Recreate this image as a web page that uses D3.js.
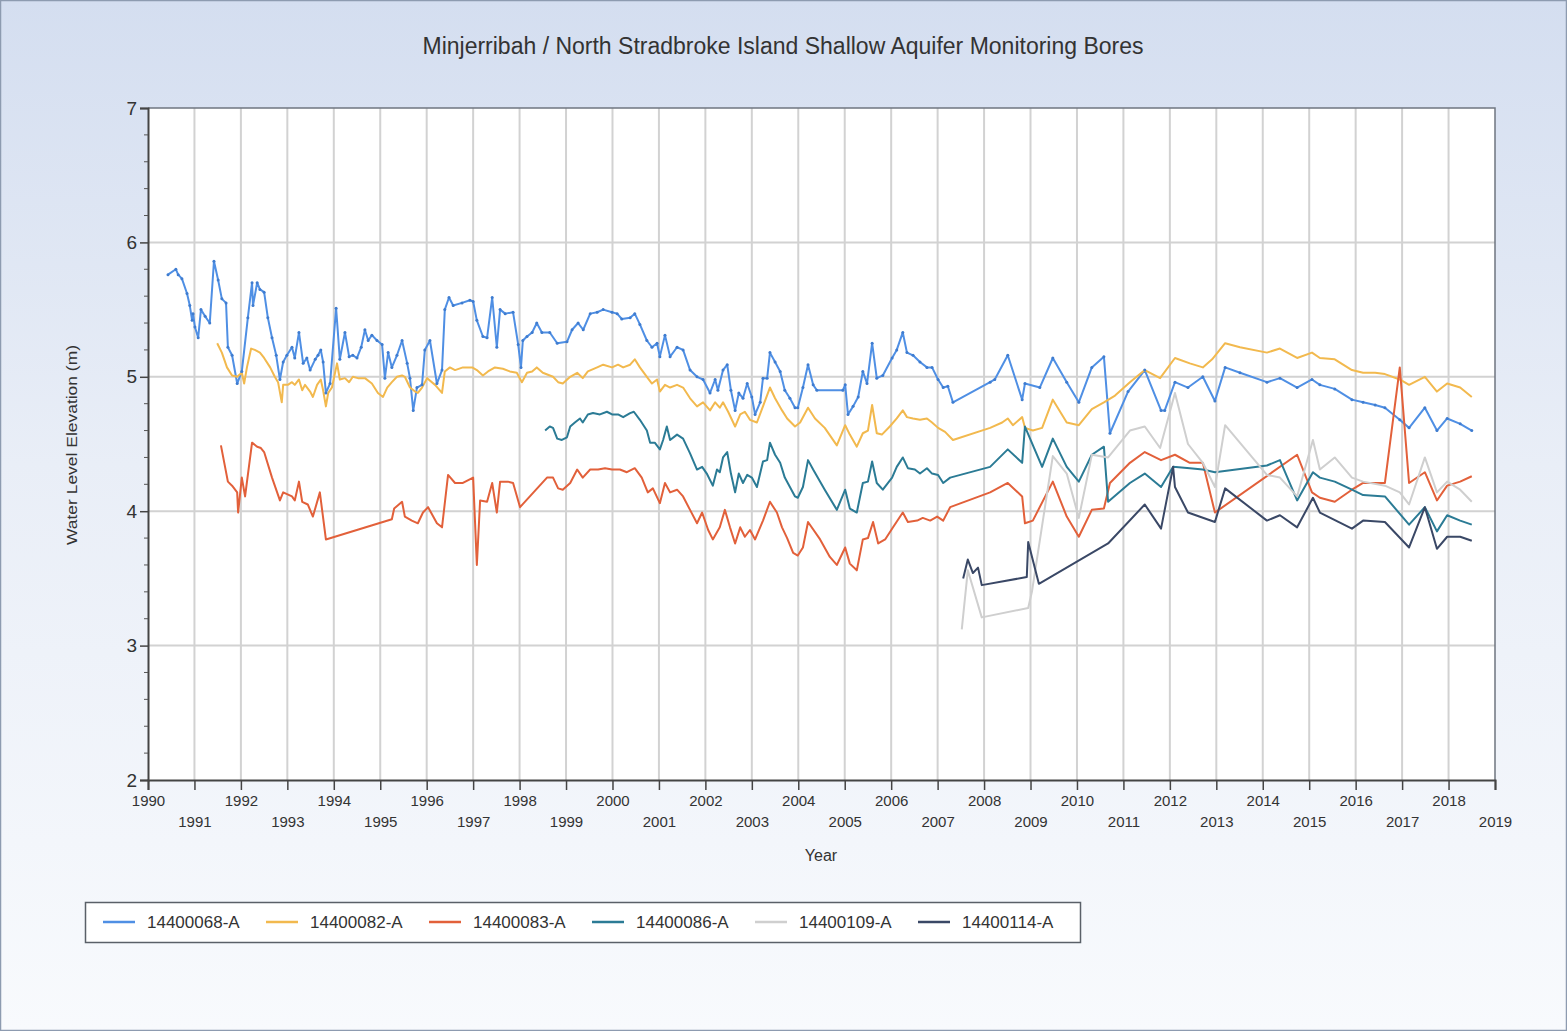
<!DOCTYPE html>
<html><head><meta charset="utf-8">
<script src="https://cdn.jsdelivr.net/npm/d3@7"></script>
<style>
html,body{margin:0;padding:0;background:#fff;}
svg{display:block;font-family:"Liberation Sans",Arial,sans-serif;}
</style></head>
<body><svg id="c" width="1567" height="1031"></svg>
<script>
const chartTitle = "Minjerribah / North Stradbroke Island Shallow Aquifer Monitoring Bores";
const xTitle = "Year";
const yTitle = "Water Level Elevation (m)";
const yearTicks = d3.range(1990, 2020);
const yTicks = [2, 3, 4, 5, 6, 7];
const seriesNames = ["14400068-A", "14400082-A", "14400083-A", "14400086-A", "14400109-A", "14400114-A"];

const s068 = [[1990.43,5.76],[1990.60,5.80],[1990.65,5.76],[1990.73,5.73],[1990.84,5.62],[1990.90,5.53],[1990.95,5.42],[1990.97,5.47],[1991.01,5.37],[1991.08,5.29],[1991.14,5.50],[1991.23,5.45],[1991.33,5.40],[1991.42,5.86],[1991.51,5.72],[1991.59,5.58],[1991.68,5.55],[1991.72,5.22],[1991.81,5.16],[1991.92,4.95],[1992.02,5.04],[1992.15,5.44],[1992.24,5.70],[1992.26,5.53],[1992.35,5.70],[1992.41,5.65],[1992.50,5.63],[1992.58,5.44],[1992.67,5.29],[1992.76,5.16],[1992.84,4.98],[1992.91,5.11],[1992.99,5.16],[1993.10,5.22],[1993.16,5.14],[1993.25,5.33],[1993.34,5.10],[1993.42,5.14],[1993.49,5.05],[1993.60,5.13],[1993.66,5.16],[1993.72,5.20],[1993.77,5.11],[1993.83,4.88],[1993.92,4.95],[1994.05,5.51],[1994.13,5.13],[1994.24,5.33],[1994.33,5.15],[1994.41,5.16],[1994.50,5.14],[1994.59,5.22],[1994.67,5.35],[1994.74,5.27],[1994.82,5.31],[1994.93,5.27],[1995.04,5.24],[1995.10,4.99],[1995.17,5.18],[1995.25,5.07],[1995.36,5.16],[1995.47,5.27],[1995.58,5.10],[1995.64,4.99],[1995.71,4.75],[1995.79,4.92],[1995.90,4.94],[1995.96,5.20],[1996.07,5.27],[1996.22,4.95],[1996.33,5.05],[1996.39,5.50],[1996.48,5.59],[1996.57,5.53],[1996.76,5.55],[1996.93,5.57],[1997.00,5.56],[1997.08,5.42],[1997.21,5.30],[1997.30,5.29],[1997.41,5.59],[1997.51,5.22],[1997.58,5.50],[1997.69,5.47],[1997.86,5.48],[1997.97,5.24],[1998.03,5.07],[1998.07,5.27],[1998.16,5.30],[1998.27,5.33],[1998.37,5.40],[1998.48,5.33],[1998.65,5.33],[1998.81,5.25],[1999.02,5.26],[1999.13,5.35],[1999.26,5.40],[1999.37,5.35],[1999.52,5.47],[1999.67,5.48],[1999.80,5.50],[1999.99,5.48],[2000.10,5.47],[2000.20,5.43],[2000.38,5.44],[2000.48,5.47],[2000.59,5.39],[2000.74,5.27],[2000.85,5.22],[2000.96,5.25],[2001.02,5.15],[2001.13,5.31],[2001.24,5.15],[2001.39,5.22],[2001.52,5.20],[2001.67,5.05],[2001.82,5.00],[2001.95,4.98],[2002.10,4.88],[2002.21,4.98],[2002.27,4.90],[2002.38,5.05],[2002.47,5.09],[2002.55,4.90],[2002.64,4.75],[2002.72,4.88],[2002.81,4.84],[2002.90,4.95],[2003.00,4.85],[2003.07,4.72],[2003.18,4.81],[2003.24,4.99],[2003.33,4.99],[2003.39,5.18],[2003.50,5.11],[2003.61,5.04],[2003.71,4.90],[2003.82,4.84],[2003.93,4.77],[2003.99,4.77],[2004.10,4.92],[2004.21,5.09],[2004.32,4.94],[2004.40,4.90],[2004.96,4.90],[2005.01,4.94],[2005.07,4.72],[2005.18,4.78],[2005.29,4.85],[2005.39,5.04],[2005.48,4.95],[2005.59,5.25],[2005.69,4.99],[2005.82,5.01],[2006.02,5.14],[2006.12,5.20],[2006.25,5.33],[2006.34,5.18],[2006.47,5.16],[2006.62,5.11],[2006.77,5.07],[2006.88,5.07],[2007.01,4.98],[2007.12,4.92],[2007.22,4.93],[2007.33,4.81],[2008.13,4.96],[2008.23,4.98],[2008.51,5.16],[2008.82,4.83],[2008.88,4.95],[2009.20,4.92],[2009.48,5.14],[2009.78,4.96],[2010.04,4.81],[2010.32,5.07],[2010.58,5.15],[2010.71,4.58],[2011.10,4.89],[2011.46,5.05],[2011.81,4.75],[2011.89,4.75],[2012.11,4.96],[2012.39,4.92],[2012.71,5.00],[2012.97,4.82],[2013.19,5.07],[2013.51,5.03],[2014.09,4.96],[2014.37,4.99],[2014.74,4.92],[2015.06,4.98],[2015.23,4.94],[2015.55,4.91],[2015.92,4.83],[2016.16,4.81],[2016.42,4.79],[2016.63,4.77],[2016.95,4.68],[2017.15,4.62],[2017.49,4.77],[2017.75,4.60],[2017.97,4.69],[2018.25,4.65],[2018.50,4.60]];

const s082 = [[1991.49,5.25],[1991.59,5.18],[1991.70,5.07],[1991.81,5.01],[1991.92,5.00],[1992.02,5.03],[1992.07,4.95],[1992.13,5.07],[1992.22,5.21],[1992.30,5.20],[1992.41,5.18],[1992.50,5.14],[1992.63,5.07],[1992.73,5.00],[1992.80,4.96],[1992.88,4.81],[1992.91,4.94],[1993.01,4.94],[1993.10,4.96],[1993.16,4.94],[1993.25,4.98],[1993.32,4.90],[1993.38,4.94],[1993.49,4.89],[1993.55,4.85],[1993.64,4.94],[1993.72,4.98],[1993.77,4.90],[1993.83,4.78],[1993.88,4.88],[1993.96,4.92],[1994.07,5.10],[1994.13,4.98],[1994.24,4.99],[1994.33,4.96],[1994.41,5.00],[1994.52,4.99],[1994.67,4.99],[1994.82,4.95],[1994.95,4.88],[1995.06,4.85],[1995.15,4.92],[1995.25,4.96],[1995.36,5.00],[1995.47,5.01],[1995.53,5.00],[1995.64,4.92],[1995.75,4.89],[1995.81,4.88],[1995.90,4.92],[1996.01,4.99],[1996.18,4.94],[1996.33,4.88],[1996.39,5.04],[1996.50,5.07],[1996.61,5.05],[1996.78,5.07],[1996.98,5.07],[1997.08,5.05],[1997.21,5.01],[1997.32,5.04],[1997.47,5.07],[1997.64,5.06],[1997.79,5.04],[1997.94,5.03],[1998.05,4.96],[1998.16,5.03],[1998.27,5.04],[1998.37,5.07],[1998.50,5.03],[1998.72,5.00],[1998.83,4.96],[1998.93,4.95],[1999.09,5.00],[1999.24,5.03],[1999.36,4.99],[1999.47,5.04],[1999.67,5.07],[1999.80,5.09],[1999.99,5.07],[2000.12,5.09],[2000.23,5.07],[2000.38,5.09],[2000.48,5.13],[2000.59,5.07],[2000.74,5.00],[2000.85,4.95],[2000.96,4.98],[2001.02,4.89],[2001.13,4.94],[2001.24,4.92],[2001.39,4.94],[2001.52,4.92],[2001.67,4.84],[2001.82,4.78],[2001.95,4.81],[2002.10,4.75],[2002.21,4.81],[2002.31,4.77],[2002.38,4.81],[2002.49,4.74],[2002.64,4.63],[2002.75,4.72],[2002.85,4.74],[2002.96,4.68],[2003.11,4.66],[2003.24,4.78],[2003.39,4.92],[2003.50,4.84],[2003.65,4.75],[2003.76,4.69],[2003.93,4.63],[2004.04,4.66],[2004.21,4.77],[2004.36,4.69],[2004.57,4.62],[2004.83,4.49],[2005.01,4.64],[2005.11,4.57],[2005.26,4.48],[2005.39,4.58],[2005.50,4.60],[2005.59,4.79],[2005.69,4.58],[2005.80,4.57],[2005.97,4.63],[2006.12,4.69],[2006.25,4.75],[2006.34,4.70],[2006.47,4.69],[2006.62,4.68],[2006.77,4.69],[2006.88,4.66],[2007.01,4.62],[2007.16,4.59],[2007.33,4.53],[2008.13,4.62],[2008.39,4.66],[2008.51,4.69],[2008.62,4.64],[2008.82,4.70],[2008.88,4.62],[2009.05,4.60],[2009.25,4.62],[2009.48,4.83],[2009.78,4.66],[2010.04,4.64],[2010.32,4.76],[2010.58,4.81],[2010.82,4.86],[2011.14,4.96],[2011.46,5.05],[2011.79,4.99],[2012.11,5.14],[2012.43,5.10],[2012.71,5.07],[2012.91,5.13],[2013.19,5.25],[2013.51,5.22],[2014.09,5.18],[2014.37,5.21],[2014.74,5.14],[2015.06,5.18],[2015.23,5.14],[2015.55,5.13],[2015.92,5.05],[2016.16,5.03],[2016.42,5.03],[2016.63,5.02],[2016.95,4.98],[2017.15,4.94],[2017.49,5.00],[2017.75,4.89],[2017.97,4.95],[2018.25,4.92],[2018.50,4.85]];

const s083 = [[1991.57,4.49],[1991.72,4.22],[1991.81,4.19],[1991.92,4.14],[1991.94,3.99],[1992.02,4.25],[1992.09,4.11],[1992.24,4.51],[1992.35,4.48],[1992.43,4.47],[1992.50,4.44],[1992.67,4.25],[1992.84,4.08],[1992.91,4.14],[1993.10,4.11],[1993.16,4.08],[1993.25,4.22],[1993.32,4.07],[1993.44,4.05],[1993.55,3.96],[1993.70,4.14],[1993.83,3.79],[1995.25,3.94],[1995.30,4.02],[1995.47,4.07],[1995.53,3.96],[1995.68,3.93],[1995.81,3.91],[1995.92,3.99],[1996.03,4.03],[1996.22,3.91],[1996.33,3.88],[1996.46,4.27],[1996.61,4.21],[1996.78,4.21],[1997.00,4.25],[1997.08,3.60],[1997.15,4.08],[1997.30,4.07],[1997.41,4.21],[1997.51,3.99],[1997.58,4.22],[1997.75,4.22],[1997.86,4.21],[1998.01,4.03],[1998.59,4.25],[1998.72,4.25],[1998.83,4.17],[1998.93,4.16],[1999.09,4.21],[1999.24,4.31],[1999.36,4.25],[1999.52,4.31],[1999.69,4.31],[1999.84,4.32],[1999.99,4.31],[2000.16,4.31],[2000.31,4.29],[2000.48,4.32],[2000.63,4.25],[2000.76,4.14],[2000.87,4.17],[2001.02,4.06],[2001.13,4.21],[2001.24,4.14],[2001.39,4.16],[2001.52,4.11],[2001.67,4.01],[2001.82,3.91],[2001.93,3.99],[2002.06,3.86],[2002.16,3.79],[2002.31,3.88],[2002.42,4.01],[2002.53,3.88],[2002.64,3.76],[2002.75,3.88],[2002.85,3.81],[2002.96,3.86],[2003.07,3.79],[2003.24,3.93],[2003.39,4.07],[2003.54,3.99],[2003.65,3.88],[2003.76,3.80],[2003.89,3.69],[2003.99,3.67],[2004.10,3.73],[2004.21,3.92],[2004.47,3.79],[2004.68,3.66],[2004.83,3.60],[2005.01,3.73],[2005.11,3.61],[2005.26,3.56],[2005.39,3.79],[2005.50,3.80],[2005.61,3.92],[2005.72,3.76],[2005.87,3.79],[2006.04,3.88],[2006.25,3.99],[2006.36,3.92],[2006.56,3.93],[2006.68,3.95],[2006.84,3.93],[2006.99,3.96],[2007.12,3.93],[2007.27,4.03],[2008.13,4.14],[2008.51,4.21],[2008.82,4.11],[2008.88,3.91],[2009.05,3.93],[2009.48,4.22],[2009.78,3.96],[2010.04,3.81],[2010.32,4.01],[2010.58,4.02],[2010.71,4.21],[2011.14,4.36],[2011.46,4.44],[2011.81,4.38],[2012.11,4.42],[2012.43,4.36],[2012.71,4.36],[2012.97,3.99],[2014.74,4.42],[2015.06,4.14],[2015.23,4.10],[2015.55,4.07],[2015.92,4.16],[2016.16,4.21],[2016.63,4.21],[2016.95,5.07],[2017.15,4.21],[2017.49,4.29],[2017.75,4.08],[2017.97,4.19],[2018.25,4.22],[2018.50,4.26]];

const s086 = [[1998.55,4.60],[1998.65,4.63],[1998.72,4.62],[1998.81,4.54],[1998.91,4.53],[1999.02,4.55],[1999.09,4.63],[1999.19,4.66],[1999.30,4.69],[1999.36,4.66],[1999.47,4.72],[1999.58,4.73],[1999.73,4.72],[1999.88,4.74],[1999.99,4.72],[2000.12,4.72],[2000.23,4.70],[2000.38,4.73],[2000.46,4.74],[2000.59,4.68],[2000.74,4.60],[2000.81,4.51],[2000.91,4.51],[2001.02,4.46],[2001.09,4.53],[2001.17,4.63],[2001.24,4.53],[2001.39,4.57],[2001.52,4.54],[2001.67,4.43],[2001.82,4.31],[2001.93,4.33],[2002.03,4.28],[2002.16,4.19],[2002.25,4.31],[2002.31,4.29],[2002.38,4.40],[2002.47,4.44],[2002.55,4.28],[2002.64,4.14],[2002.72,4.28],[2002.81,4.21],[2002.90,4.27],[2003.00,4.25],[2003.11,4.18],[2003.24,4.37],[2003.33,4.38],[2003.39,4.51],[2003.50,4.42],[2003.61,4.36],[2003.71,4.25],[2003.82,4.18],[2003.93,4.11],[2003.99,4.10],[2004.10,4.18],[2004.21,4.38],[2004.32,4.31],[2004.57,4.16],[2004.83,4.01],[2005.01,4.16],[2005.11,4.02],[2005.26,3.99],[2005.39,4.21],[2005.50,4.22],[2005.59,4.37],[2005.69,4.21],[2005.82,4.16],[2006.02,4.25],[2006.12,4.33],[2006.25,4.40],[2006.36,4.32],[2006.51,4.31],[2006.62,4.28],[2006.77,4.32],[2006.88,4.28],[2007.01,4.27],[2007.12,4.21],[2007.27,4.25],[2008.13,4.33],[2008.51,4.46],[2008.82,4.36],[2008.88,4.63],[2009.25,4.33],[2009.48,4.54],[2009.78,4.33],[2010.04,4.22],[2010.32,4.42],[2010.58,4.48],[2010.67,4.07],[2011.14,4.21],[2011.46,4.28],[2011.81,4.18],[2012.07,4.33],[2012.43,4.32],[2012.71,4.31],[2012.97,4.29],[2014.09,4.34],[2014.37,4.38],[2014.74,4.08],[2015.08,4.29],[2015.23,4.25],[2015.55,4.22],[2015.92,4.16],[2016.16,4.12],[2016.63,4.11],[2017.15,3.90],[2017.49,4.03],[2017.75,3.85],[2017.97,3.97],[2018.25,3.93],[2018.50,3.90]];

const s109 = [[2007.52,3.12],[2007.65,3.56],[2007.95,3.21],[2008.95,3.28],[2009.03,3.40],[2009.48,4.41],[2009.78,4.28],[2010.04,3.95],[2010.22,4.25],[2010.32,4.42],[2010.67,4.40],[2011.14,4.60],[2011.46,4.63],[2011.79,4.47],[2012.11,4.88],[2012.39,4.50],[2012.71,4.36],[2012.97,4.18],[2013.19,4.64],[2014.09,4.27],[2014.37,4.25],[2014.74,4.11],[2015.08,4.53],[2015.23,4.31],[2015.55,4.40],[2015.92,4.25],[2016.16,4.22],[2016.63,4.19],[2016.95,4.14],[2017.15,4.05],[2017.49,4.40],[2017.75,4.14],[2017.97,4.22],[2018.25,4.16],[2018.50,4.07]];

const s114 = [[2007.55,3.50],[2007.65,3.64],[2007.76,3.54],[2007.87,3.58],[2007.95,3.45],[2008.92,3.51],[2008.95,3.77],[2009.18,3.46],[2010.67,3.76],[2011.46,4.05],[2011.81,3.87],[2012.07,4.33],[2012.11,4.18],[2012.39,3.99],[2012.97,3.92],[2013.19,4.17],[2014.09,3.93],[2014.37,3.97],[2014.74,3.88],[2015.08,4.10],[2015.23,3.99],[2015.92,3.87],[2016.16,3.93],[2016.63,3.92],[2017.15,3.73],[2017.49,4.03],[2017.75,3.72],[2017.97,3.81],[2018.25,3.81],[2018.50,3.78]];

const seriesData = [s068, s082, s083, s086, s109, s114];
const seriesColors = ["#4f8fe4", "#f2b94e", "#e2603a", "#2b7b95", "#cfcfcf", "#3a4866"];

const W = 1567, H = 1031;
const M = {left:148, right:1495, top:108, bottom:780};
const svg = d3.select("#c");

// background gradient
const defs = svg.append("defs");
const g = defs.append("linearGradient").attr("id","bg").attr("x1",0).attr("y1",0).attr("x2",0).attr("y2",1);
g.append("stop").attr("offset","0%").attr("stop-color","#d4def0");
g.append("stop").attr("offset","45%").attr("stop-color","#e9eef7");
g.append("stop").attr("offset","100%").attr("stop-color","#f8fafd");
svg.append("rect").attr("x",0.5).attr("y",0.5).attr("width",W-1).attr("height",H-1)
  .attr("fill","url(#bg)").attr("stroke","#8d9bb0").attr("stroke-width",1.5);

const x = d3.scaleLinear().domain([1990, 2019]).range([M.left, M.right]);
const y = d3.scaleLinear().domain([2, 7]).range([M.bottom, M.top]);

// plot area
svg.append("rect").attr("x",M.left).attr("y",M.top).attr("width",M.right-M.left).attr("height",M.bottom-M.top)
  .attr("fill","#ffffff");

// gridlines
svg.append("g").selectAll("line").data(yearTicks.slice(1, -1)).join("line")
  .attr("x1",d=>x(d)).attr("x2",d=>x(d)).attr("y1",M.top).attr("y2",M.bottom)
  .attr("stroke","#d2d2d2").attr("stroke-width",2);
svg.append("g").selectAll("line").data(yTicks.slice(1, -1)).join("line")
  .attr("y1",d=>y(d)).attr("y2",d=>y(d)).attr("x1",M.left).attr("x2",M.right)
  .attr("stroke","#d2d2d2").attr("stroke-width",2);

// plot border (top/right)
svg.append("path").attr("d",`M${M.left},${M.top}H${M.right}V${M.bottom}`)
  .attr("fill","none").attr("stroke","#6f7680").attr("stroke-width",1.5);

// series lines
const line = d3.line().x(d=>x(d[0])).y(d=>y(d[1]));
seriesData.forEach((data, i) => {
  svg.append("path").datum(data).attr("d", line)
    .attr("fill","none").attr("stroke",seriesColors[i]).attr("stroke-width",2)
    .attr("stroke-linejoin","round");
});
// markers on first series
svg.append("g").selectAll("circle").data(s068).join("circle")
  .attr("cx",d=>x(d[0])).attr("cy",d=>y(d[1])).attr("r",1.5).attr("fill","#3f7ccf");

// Y axis
const yAxis = d3.axisLeft(y).tickValues(yTicks).tickSize(8).tickFormat(d3.format("d"));
const ya = svg.append("g").attr("transform",`translate(${M.left},0)`).call(yAxis);
ya.select(".domain").attr("stroke","#444").attr("stroke-width",2);
ya.selectAll(".tick line").attr("stroke","#444").attr("stroke-width",1.5);
ya.selectAll(".tick text").attr("font-size",19).attr("fill","#333").attr("x",-11)
  .attr("font-family","'Liberation Sans',Arial,sans-serif");
const yMinor = d3.range(2, 7.001, 0.2).filter(v => Math.abs(v - Math.round(v)) > 0.01);
svg.append("g").selectAll("line").data(yMinor).join("line")
  .attr("x1",M.left-4).attr("x2",M.left).attr("y1",d=>y(d)).attr("y2",d=>y(d))
  .attr("stroke","#555").attr("stroke-width",1);

// X axis
const xAxis = d3.axisBottom(x).tickValues(yearTicks).tickSize(10).tickFormat(d3.format("d"));
const xa = svg.append("g").attr("transform",`translate(0,${M.bottom})`).call(xAxis);
xa.select(".domain").attr("stroke","#444").attr("stroke-width",2);
xa.selectAll(".tick line").attr("stroke","#444").attr("stroke-width",1.5);
xa.selectAll(".tick text").attr("font-size",15).attr("fill","#333")
  .attr("font-family","'Liberation Sans',Arial,sans-serif")
  .attr("y", d => (d % 2 === 0) ? 15 : 36);

// titles
svg.append("text").attr("x",783).attr("y",54).attr("text-anchor","middle")
  .attr("font-size",23).attr("fill","#333").text(chartTitle);
svg.append("text").attr("x",821).attr("y",861).attr("text-anchor","middle")
  .attr("font-size",16).attr("fill","#333").text(xTitle);
svg.append("text").attr("transform","translate(77,445) rotate(-90)").attr("text-anchor","middle")
  .attr("font-size",15).attr("textLength",200).attr("lengthAdjust","spacingAndGlyphs")
  .attr("fill","#333").text(yTitle);

// legend
const lg = svg.append("g");
lg.append("rect").attr("x",85.5).attr("y",902.5).attr("width",995).attr("height",40)
  .attr("fill","#ffffff").attr("stroke","#5a6068").attr("stroke-width",1.5);
const item = lg.selectAll("g.item").data(seriesNames).join("g").attr("class","item")
  .attr("transform",(d,i)=>`translate(${103 + i*163},922)`);
item.append("line").attr("x1",0).attr("x2",32).attr("y1",0).attr("y2",0)
  .attr("stroke",(d,i)=>seriesColors[i]).attr("stroke-width",2.5);
item.append("text").attr("x",44).attr("y",6).attr("font-size",17).attr("fill","#333").text(d=>d);
</script></body></html>
